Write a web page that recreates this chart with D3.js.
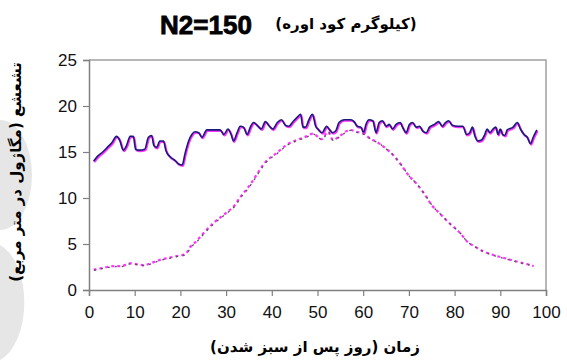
<!DOCTYPE html>
<html>
<head>
<meta charset="utf-8">
<script src="https://cdn.jsdelivr.net/npm/d3@7"></script>
<style>
  body { margin: 0; background: #fff; }
  svg { display: block; }
</style>
</head>
<body>
<div id="chart"></div>
<script>
// daily radiation
const radDays = [1, 2, 3, 4, 5, 6, 6.7, 7.5, 8.2, 9, 9.7, 10.2, 11, 12.2, 13, 13.7, 14.2, 14.8, 15.5, 16.3, 16.8, 17.7, 18.8, 19.6, 20.4, 21, 21.8, 22.5, 23.2, 24, 24.7,
  25.8, 26.9, 28.7, 29.5, 30.4, 31.1, 31.6, 32.4, 33.1, 33.8, 34.6, 35.3, 36, 37, 37.7, 38.6, 39.5, 40.2, 41.2, 42.1, 43, 43.7, 44.8, 45.6, 46.3, 46.8, 47.4, 48.1, 48.9, 49.6,
  50.1, 51, 52, 52.5, 53.3, 54, 54.7, 55.8, 57.3, 58, 58.7, 59.5, 60.1, 60.6, 61.3, 62.1, 62.8, 63.5, 64.2, 65, 65.7, 66.4, 67.2, 68.1, 68.6, 69.4, 70.1, 70.8, 71.6, 72.3, 73, 73.8, 74.5,
  75.6, 76.5, 77.3, 78, 78.7, 79.5, 80.7, 81.8, 82.6, 83.3, 83.9, 84.4, 85.1, 85.9, 86.6, 87.1, 87.7, 88.4, 89, 89.5, 90, 90.5, 91, 91.5, 92.8, 93.7, 94.4, 95.2, 95.9, 96.6, 97.2, 98];
const radValues = [14.0, 14.6, 15.0, 15.5, 16.0, 16.7, 16.3, 15.2, 15.7, 16.7, 16.7, 15.3, 15.2, 15.3, 16.6, 16.8, 15.7, 15.5, 16.2, 16.2, 15.2, 14.5, 14.1, 13.7, 13.6, 14.8, 16.2, 16.9, 17.2, 17.1, 16.6,
  17.4, 17.4, 17.4, 16.9, 17.5, 16.9, 16.2, 17.1, 17.8, 17.7, 16.9, 17.7, 18.2, 17.8, 17.5, 18.3, 17.8, 17.5, 18.2, 18.5, 17.9, 17.8, 18.4, 18.8, 19.1, 17.7, 17.7, 18.5, 19.1, 17.8,
  17.5, 17.1, 17.8, 17.5, 17.1, 17.3, 18.2, 18.5, 18.5, 18.3, 17.8, 17.7, 17.1, 18.0, 18.5, 18.4, 17.1, 18.2, 18.4, 17.8, 18.0, 17.5, 18.0, 18.2, 17.7, 17.1, 18.0, 18.2, 17.7, 17.8, 17.3, 17.1, 17.7,
  18.0, 18.3, 17.8, 18.2, 18.4, 17.9, 17.8, 17.8, 16.9, 17.1, 17.7, 16.8, 16.2, 16.3, 16.9, 17.5, 17.1, 17.5, 17.7, 16.9, 17.5, 16.9, 16.8, 17.4, 17.7, 18.2, 17.5, 16.9, 16.6, 15.9, 16.6, 17.4];

// intercepted radiation
const intDays = [1, 3, 5.5, 7, 9, 10.5, 12, 14, 15.7, 17.5, 19.3, 21.1, 22.2, 23.5, 25.1, 27.3, 29.8, 31.7, 33.1, 34.9, 36, 38.6, 41.1, 43.3, 45.5, 47.6, 49, 50.9,
  52.3, 53.4, 55, 57.1, 58.5, 60, 61.4, 63.6, 65.4, 66.5, 68, 70.2, 71.6, 73.3, 75.2, 76.8, 79, 81.2, 82.7, 84.5, 86.3, 88.5, 91.4, 94.3, 96, 97.3];
const intValues = [2.2, 2.4, 2.6, 2.6, 2.9, 2.8, 2.7, 3.0, 3.3, 3.5, 3.7, 3.9, 4.7, 5.3, 6.2, 7.3, 8.3, 9.1, 10.1, 11.2, 12.0, 13.9, 14.9, 15.8, 16.3, 16.7, 17.0, 16.4,
  17.2, 16.3, 16.8, 17.4, 17.2, 17.0, 16.5, 15.9, 15.2, 14.7, 13.8, 12.3, 11.6, 10.5, 9.1, 8.3, 7.2, 6.2, 5.3, 4.7, 4.2, 3.8, 3.4, 3.0, 2.8, 2.6];

const xTicks = [0, 10, 20, 30, 40, 50, 60, 70, 80, 90, 100];
const yTicks = [0, 5, 10, 15, 20, 25];

const titleMain = "N2=150";
const titleSub = "(کیلوگرم کود اوره)";
const xTitle = "زمان (روز پس از سبز شدن)";
const yTitle = "تشعشع (مگاژول در متر مربع)";

const width = 567, height = 360;
const faFont = "'DejaVu Sans', sans-serif";
const numFont = "'Liberation Sans', Arial, sans-serif";

const svg = d3.select("#chart").append("svg")
    .attr("width", width)
    .attr("height", height);

const x = d3.scaleLinear().domain([0, 100]).range([89, 546]);
const y = d3.scaleLinear().domain([0, 25]).range([290, 60]);

// light grey shapes on the left edge of the scan
svg.append("path")
    .attr("d", "M0,120 A32,55 0 0 1 0,230 Z")
    .attr("fill", "#e6e6e6");
svg.append("path")
    .attr("d", "M0,245 A34,60 0 0 1 0,360 L0,360 Z")
    .attr("fill", "#e6e6e6");

// plot frame (top and right)
svg.append("path")
    .attr("d", `M${x(0)},${y(25)}H${x(100)}V${y(0)}`)
    .attr("fill", "none")
    .attr("stroke", "#a0a0a0")
    .attr("stroke-width", 1.5);

// axes
const xAxis = svg.append("g")
    .attr("transform", `translate(0,${y(0)})`)
    .call(d3.axisBottom(x).tickValues(xTicks).tickSize(6).tickPadding(10).tickFormat(d3.format("d")));
const yAxis = svg.append("g")
    .attr("transform", `translate(${x(0)},0)`)
    .call(d3.axisLeft(y).tickValues(yTicks).tickSize(6).tickPadding(6).tickFormat(d3.format("d")));

[xAxis, yAxis].forEach(g => {
  g.select(".domain").attr("stroke", "#808080").attr("stroke-width", 1.5);
  g.selectAll(".tick line").attr("stroke", "#808080").attr("stroke-width", 1.2);
  g.selectAll(".tick text")
    .attr("fill", "#111")
    .style("font-family", numFont)
    .style("font-size", "17px");
});

const line = d3.line().curve(d3.curveMonotoneX);

// radiation: magenta under navy
const radPts = radDays.map((d, i) => [x(d), y(radValues[i])]);
svg.append("path")
    .attr("d", line(radPts))
    .attr("transform", "translate(0.8,1)")
    .attr("fill", "none")
    .attr("stroke", "#ff33ff")
    .attr("stroke-width", 2);
svg.append("path")
    .attr("d", line(radPts))
    .attr("fill", "none")
    .attr("stroke", "#1a1a7a")
    .attr("stroke-width", 1.6);

// intercepted: magenta dotted with grey dashes
const intPts = intDays.map((d, i) => [x(d), y(intValues[i])]);
svg.append("path")
    .attr("d", line(intPts))
    .attr("fill", "none")
    .attr("stroke", "#ff33ff")
    .attr("stroke-width", 2.2)
    .attr("stroke-dasharray", "3,3");
svg.append("path")
    .attr("d", line(intPts))
    .attr("transform", "translate(0.5,0.5)")
    .attr("fill", "none")
    .attr("stroke", "#555")
    .attr("stroke-width", 1.3)
    .attr("stroke-dasharray", "2,5");

// titles
svg.append("text")
    .attr("x", 206).attr("y", 34)
    .attr("text-anchor", "middle")
    .attr("stroke", "#000")
    .attr("stroke-width", 0.8)
    .style("font-family", numFont)
    .style("font-weight", "bold")
    .style("font-size", "26px")
    .text(titleMain);
svg.append("text")
    .attr("x", 346).attr("y", 29)
    .attr("text-anchor", "middle")
    .attr("direction", "rtl")
    .style("font-family", faFont)
    .style("font-weight", "bold")
    .style("font-size", "15px")
    .text(titleSub);

svg.append("text")
    .attr("x", 315).attr("y", 352)
    .attr("text-anchor", "middle")
    .style("font-family", faFont)
    .style("font-weight", "bold")
    .style("font-size", "15px")
    .text(xTitle);

svg.append("text")
    .attr("transform", "translate(21,172) rotate(-90)")
    .attr("text-anchor", "middle")
    .style("font-family", faFont)
    .style("font-weight", "bold")
    .style("font-size", "15px")
    .text(yTitle);
</script>
</body>
</html>
